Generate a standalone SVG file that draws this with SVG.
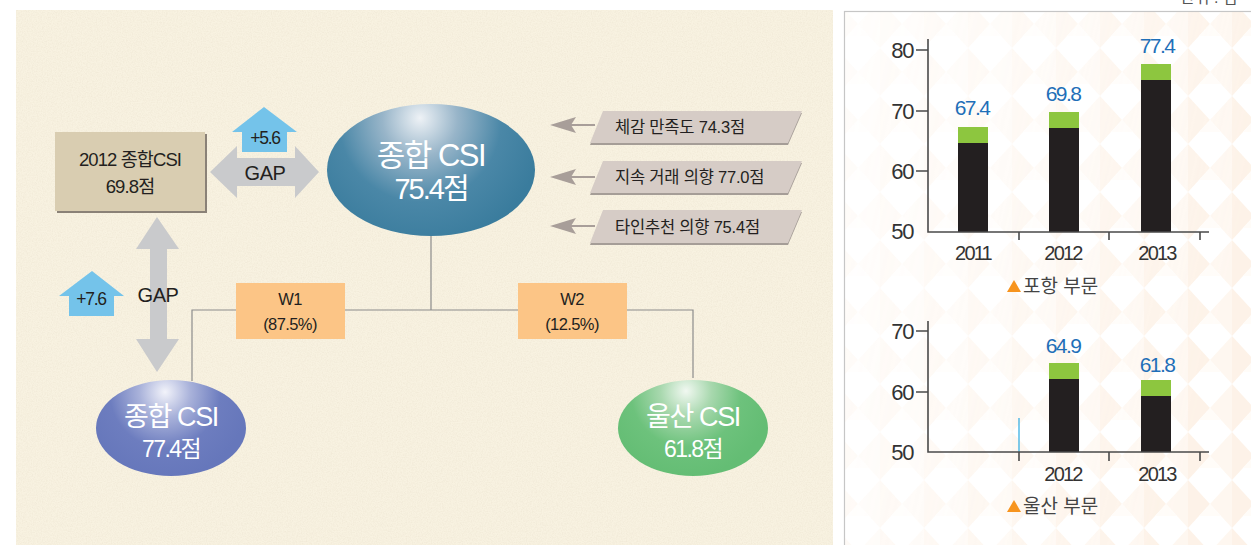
<svg xmlns="http://www.w3.org/2000/svg" width="1251" height="545" viewBox="0 0 1251 545">
<defs>
<style>
.t{font-family:"Liberation Sans","Noto Sans CJK KR",sans-serif;}
.dk{fill:#231f20;}
.wh{fill:#ffffff;}
.conn{stroke:#8c8c8c;stroke-width:1.2;fill:none;}
.gap{fill:#c9cacc;}
.up{fill:#74c3ea;}
.para{fill:#d6ccc6;}
.parash{fill:#a59d97;}
.lar{fill:#a89e99;}
.wbox{fill:#fcc586;}
.axis{stroke:#4a4a4a;stroke-width:1.6;fill:none;}
.blk{fill:#231f20;}
.grn{fill:#8dc63f;}
.val{fill:#1f6fb8;font-size:21px;letter-spacing:-1.6px;text-anchor:middle;}
.yl{fill:#333;font-size:22px;letter-spacing:-1.4px;text-anchor:end;}
.xl{fill:#333;font-size:20px;letter-spacing:-1.8px;text-anchor:middle;}
.cap{fill:#444;font-size:19px;}
.tri{fill:#f7941d;}
</style>
<filter id="paper" x="0" y="0" width="100%" height="100%">
<feTurbulence type="fractalNoise" baseFrequency="0.8" numOctaves="3" seed="4"/>
<feColorMatrix type="matrix" values="0 0 0 0 0.70  0 0 0 0 0.62  0 0 0 0 0.48  0 0 0 -1.6 1.05"/>
</filter>
<pattern id="tris" width="44" height="48" patternUnits="userSpaceOnUse">
<polygon points="0,0 22,24 0,48" fill="#fbe3cc"/>
<polygon points="44,0 22,24 44,48" fill="#fdeedf"/>
<polygon points="22,24 11,36 33,36" fill="#fff8f0"/>
</pattern>
<linearGradient id="fadeG" x1="0" y1="0" x2="1" y2="0.3">
<stop offset="0" stop-color="#fff" stop-opacity="0.15"/>
<stop offset="0.45" stop-color="#fff" stop-opacity="0.35"/>
<stop offset="1" stop-color="#fff" stop-opacity="0.75"/>
</linearGradient>
<mask id="fadeM"><rect x="845" y="12" width="406" height="533" fill="url(#fadeG)"/></mask>
<radialGradient id="gMain" gradientUnits="userSpaceOnUse" cx="420" cy="122" r="125" fx="420" fy="118">
<stop offset="0" stop-color="#eef2f6"/>
<stop offset="0.3" stop-color="#98b5c9"/>
<stop offset="0.65" stop-color="#4a87a7"/>
<stop offset="1" stop-color="#3a7c9d"/>
</radialGradient>
<radialGradient id="gBlue" gradientUnits="userSpaceOnUse" cx="165" cy="393" r="85" fx="165" fy="392">
<stop offset="0" stop-color="#f2f3fa"/>
<stop offset="0.3" stop-color="#a9b2da"/>
<stop offset="0.65" stop-color="#6d7dbf"/>
<stop offset="1" stop-color="#6677bb"/>
</radialGradient>
<radialGradient id="gGreen" gradientUnits="userSpaceOnUse" cx="686" cy="392" r="85" fx="686" fy="391">
<stop offset="0" stop-color="#f1f8f1"/>
<stop offset="0.3" stop-color="#a8d8ae"/>
<stop offset="0.65" stop-color="#6dc27c"/>
<stop offset="1" stop-color="#64bd74"/>
</radialGradient>
</defs>

<rect x="0" y="0" width="1251" height="545" fill="#ffffff"/>
<g id="left-panel">
<rect x="16" y="10" width="817" height="535" fill="#f8f2e1"/>
<rect x="16" y="10" width="817" height="535" filter="url(#paper)" opacity="0.25"/>
</g>

<g id="right-panel">
<rect x="844.5" y="11.5" width="420" height="540" fill="#ffffff" stroke="#c6c6c6" stroke-width="1.2"/>
<rect x="845" y="12" width="406" height="533" fill="url(#tris)" mask="url(#fadeM)" opacity="0.6"/>
<text class="t" x="1180" y="3" font-size="16" fill="#555">단위 : 점</text>
</g>

<g id="connectors">
<path class="conn" d="M431,236 V310 M192,381 V310 H693 V378"/>
<path class="lar" d="M550,125 L576,117 L571,125 L576,133 Z"/><line x1="571" y1="125" x2="595" y2="125" stroke="#a89e99" stroke-width="2"/>
<path class="lar" d="M550,177 L576,169 L571,177 L576,185 Z"/><line x1="571" y1="177" x2="595" y2="177" stroke="#a89e99" stroke-width="2"/>
<path class="lar" d="M550,226 L576,218 L571,226 L576,234 Z"/><line x1="571" y1="226" x2="595" y2="226" stroke="#a89e99" stroke-width="2"/>
</g>

<g id="box2012">
<rect x="57" y="134" width="150" height="79" fill="#8a8177"/>
<rect x="55" y="132" width="150" height="79" fill="#d9cdb1"/>
<text class="t dk" x="130" y="166" font-size="18.5" letter-spacing="-0.9" text-anchor="middle">2012 종합CSI</text>
<text class="t dk" x="130" y="193" font-size="18.5" letter-spacing="-0.9" text-anchor="middle">69.8점</text>
</g>

<g id="gap-h">
<polygon class="gap" points="210,172 237,146 237,158 295,158 295,146 319,172 295,198 295,186 237,186 237,198"/>
<text class="t dk" x="265" y="180" font-size="20" letter-spacing="-0.4" text-anchor="middle">GAP</text>
</g>
<g id="up56">
<polygon class="up" points="264,107 297,132 287,132 287,152 242,152 242,132 232,132"/>
<text class="t dk" x="265" y="144" font-size="17.5" letter-spacing="-1.2" text-anchor="middle">+5.6</text>
</g>

<g id="gap-v">
<polygon class="gap" points="157,217 179,249 167,249 167,339 179,339 157,372 136,339 150,339 150,249 136,249"/>
<text class="t dk" x="158" y="302" font-size="20" letter-spacing="-0.4" text-anchor="middle">GAP</text>
</g>
<g id="up76">
<polygon class="up" points="92,271 124,296 114,296 114,316 69,316 69,296 59,296"/>
<text class="t dk" x="91" y="305" font-size="17.5" letter-spacing="-1.2" text-anchor="middle">+7.6</text>
</g>

<g id="main-csi">
<ellipse cx="431" cy="170" rx="104" ry="66" fill="url(#gMain)"/>
<text class="t wh" x="431" y="166" font-size="31" letter-spacing="-1.5" text-anchor="middle">종합 CSI</text>
<text class="t wh" x="431" y="199" font-size="29" letter-spacing="-2" text-anchor="middle">75.4점</text>
</g>

<g id="p1">
<polygon class="parash" points="603,113 802,113 788,145 590,145"/>
<polygon class="para" points="603,111 802,111 788,143 590,143"/>
<text class="t dk" x="615" y="133" font-size="16.5" letter-spacing="-0.2">체감 만족도 74.3점</text>
</g>
<g id="p2">
<polygon class="parash" points="603,163 802,163 788,195 590,195"/>
<polygon class="para" points="603,161 802,161 788,193 590,193"/>
<text class="t dk" x="615" y="183" font-size="16.5" letter-spacing="-0.2">지속 거래 의향 77.0점</text>
</g>
<g id="p3">
<polygon class="parash" points="603,212 802,212 788,245 590,245"/>
<polygon class="para" points="603,210 802,210 788,243 590,243"/>
<text class="t dk" x="615" y="233" font-size="16.5" letter-spacing="-0.2">타인추천 의향 75.4점</text>
</g>

<g id="w1">
<rect class="wbox" x="236" y="283" width="109" height="56"/>
<text class="t dk" x="290" y="305" font-size="16.5" letter-spacing="-0.6" text-anchor="middle">W1</text>
<text class="t dk" x="290" y="330" font-size="16.5" letter-spacing="-0.6" text-anchor="middle">(87.5%)</text>
</g>
<g id="w2">
<rect class="wbox" x="518" y="283" width="109" height="56"/>
<text class="t dk" x="572" y="305" font-size="16.5" letter-spacing="-0.6" text-anchor="middle">W2</text>
<text class="t dk" x="572" y="330" font-size="16.5" letter-spacing="-0.6" text-anchor="middle">(12.5%)</text>
</g>

<g id="pohang-csi">
<ellipse cx="171" cy="428" rx="75" ry="48" fill="url(#gBlue)"/>
<text class="t wh" x="171" y="426" font-size="27" letter-spacing="-1.4" text-anchor="middle">종합 CSI</text>
<text class="t wh" x="171" y="457" font-size="23" letter-spacing="-1.6" text-anchor="middle">77.4점</text>
</g>
<g id="ulsan-csi">
<ellipse cx="693" cy="428" rx="75" ry="48" fill="url(#gGreen)"/>
<text class="t wh" x="693" y="426" font-size="27" letter-spacing="-1.4" text-anchor="middle">울산 CSI</text>
<text class="t wh" x="693" y="457" font-size="23" letter-spacing="-1.6" text-anchor="middle">61.8점</text>
</g>

<g id="chart-pohang">
<rect class="blk" x="958" y="143" width="30" height="89"/>
<rect class="grn" x="958" y="127" width="30" height="16"/>
<rect class="blk" x="1049" y="128" width="30" height="104"/>
<rect class="grn" x="1049" y="112" width="30" height="16"/>
<rect class="blk" x="1141" y="80" width="30" height="152"/>
<rect class="grn" x="1141" y="64" width="30" height="16"/>
<path class="axis" d="M928,39 V232 H1209 M916,50 H928 M916,111 H928 M916,171 H928 M1019,232 V240 M1109,232 V240 M1200,232 V240"/>
<text class="t yl" x="913" y="58">80</text>
<text class="t yl" x="913" y="119">70</text>
<text class="t yl" x="913" y="179">60</text>
<text class="t yl" x="913" y="239">50</text>
<text class="t val" x="972" y="115">67.4</text>
<text class="t val" x="1063" y="101">69.8</text>
<text class="t val" x="1157" y="53">77.4</text>
<text class="t xl" x="973" y="260">2011</text>
<text class="t xl" x="1063" y="260">2012</text>
<text class="t xl" x="1157" y="260">2013</text>
<polygon class="tri" points="1014,280 1021,292 1007,292"/>
<text class="t cap" x="1023" y="293">포항 부문</text>
</g>

<g id="chart-ulsan">
<rect class="blk" x="1049" y="379" width="30" height="73"/>
<rect class="grn" x="1049" y="363" width="30" height="16"/>
<rect class="blk" x="1141" y="396" width="30" height="56"/>
<rect class="grn" x="1141" y="380" width="30" height="16"/>
<line x1="1019" y1="418" x2="1019" y2="452" stroke="#29a9e1" stroke-width="1.2"/>
<path class="axis" d="M928,321 V452 H1209 M916,331 H928 M916,392 H928 M1019,452 V461 M1109,452 V461 M1200,452 V461"/>
<text class="t yl" x="913" y="339">70</text>
<text class="t yl" x="913" y="400">60</text>
<text class="t yl" x="913" y="460">50</text>
<text class="t val" x="1063" y="353">64.9</text>
<text class="t val" x="1157" y="372">61.8</text>
<text class="t xl" x="1063" y="481">2012</text>
<text class="t xl" x="1157" y="481">2013</text>
<polygon class="tri" points="1014,500 1021,512 1007,512"/>
<text class="t cap" x="1023" y="513">울산 부문</text>
</g>
</svg>
